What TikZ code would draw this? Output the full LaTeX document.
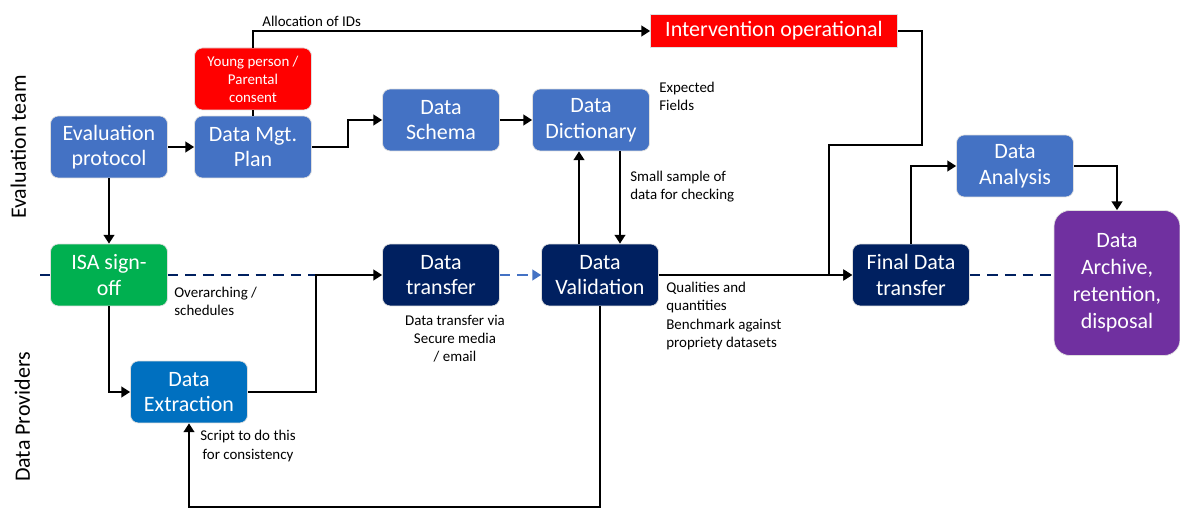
\documentclass[tikz,border=0pt]{standalone}
\usepackage{fontspec}
\setmainfont{Carlito}
\usetikzlibrary{arrows.meta,positioning,calc}
\definecolor{evblue}{HTML}{4472C4}
\definecolor{navy}{HTML}{002060}
\definecolor{isagreen}{HTML}{00B050}
\definecolor{extblue}{HTML}{0070C0}
\definecolor{archpurple}{HTML}{7030A0}
\definecolor{consred}{HTML}{FF0000}
\begin{document}
\begin{tikzpicture}[x=0.02cm,y=-0.02cm,
  box/.style={rounded corners=4.5pt,minimum width=2.34cm,minimum height=1.24cm,inner sep=1pt,
    align=center,text=white,draw=white!75!gray,line width=0.4pt,font=\fontsize{12.5}{14.5}\selectfont},
  note/.style={inner sep=0pt,font=\fontsize{8.5}{10.3}\selectfont},
  line/.style={line width=1.5pt},
  arr/.style={line width=1.5pt,-{Triangle[length=5pt,width=6pt]}},
  lane/.style={navy,line width=1.4pt,dash pattern=on 6pt off 4pt},
  lanearr/.style={evblue,line width=1.4pt,dash pattern=on 6pt off 4pt,-{Triangle[length=5pt,width=6pt]}}]
\useasboundingbox (0,0) rectangle (1180,509);
\node[rotate=90,anchor=base,font=\fontsize{12.5}{14.5}\selectfont] (evteam) at (26,147) {Evaluation team};
\node[rotate=90,anchor=base,font=\fontsize{12.5}{14.5}\selectfont] (dprov) at (30,417) {Data Providers};
\node[box,fill=evblue] (eval) at (109,147) {Evaluation\\protocol};
\node[box,fill=evblue] (mgt) at (253,147) {Data Mgt.\\Plan};
\node[box,fill=consred,font=\fontsize{8.5}{10.3}\selectfont] (yp) at (253,79) {Young person /\\Parental\\consent};
\node[box,fill=evblue] (schema) at (441,120) {Data\\Schema};
\node[box,fill=evblue] (dict) at (591,120) {Data\\Dictionary};
\node[box,fill=consred,rounded corners=0pt,minimum width=4.94cm,minimum height=0.66cm] (interv) at (774,31) {Intervention operational};
\node[box,fill=evblue] (ana) at (1015,166) {Data\\Analysis};
\node[box,fill=isagreen] (isa) at (109,275) {ISA sign-\\off};
\node[box,fill=extblue] (ext) at (189,392) {Data\\Extraction};
\node[box,fill=navy] (transfer) at (441,275) {Data\\transfer};
\node[box,fill=navy] (val) at (600,275) {Data\\Validation};
\node[box,fill=navy] (fin) at (911,275) {Final Data\\transfer};
\node[box,fill=archpurple,rounded corners=9pt,minimum width=2.52cm,minimum height=2.9cm,
  font=\fontsize{12.5}{15.4}\selectfont] (arch) at (1117,283) {Data\\Archive,\\retention,\\disposal};
\coordinate (laneL) at (40,275);
\coordinate (ej) at (316,275);
\coordinate (bot) at (0,507);
\coordinate (upx) at (579,0);
\coordinate (downx) at (620,0);
\coordinate (c1) at (922,145);
\coordinate (c2) at (829,145);
\draw[lane] (laneL) -- (isa.west);
\draw[lane] (isa.east) -- (ej);
\draw[lanearr] (transfer) -- (val);
\draw[lane] (fin.east) -- (fin.east -| arch.west);
\draw[arr] (eval) -- (mgt);
\draw[arr] (eval) -- (isa);
\draw[line] (mgt) -- (yp);
\draw[arr] (yp.north) |- (interv.west);
\draw[arr] (mgt.east) -- ++(36,0) |- (schema.west);
\draw[arr] (schema) -- (dict);
\draw[arr] (val.north -| upx) -- (dict.south -| upx);
\draw[arr] (dict.south -| downx) -- (val.north -| downx);
\draw[arr] (isa.south) |- (ext.west);
\draw[arr] (ext.east) -| (ej) -- (transfer.west);
\draw[arr] (val.south) -- (val.south |- bot) -| (ext.south);
\draw[arr] (val.east) -- (fin.west);
\draw[arr] (interv.east) -| (c1) -- (c2) |- (fin.west);
\draw[arr] (fin.north) |- (ana.west);
\draw[arr] (ana.east) -| (arch.north);
\node[note,anchor=west] (alloc) at (262,21) {Allocation of IDs};
\node[note,anchor=west,align=left] (expf) at (659,96) {Expected\\Fields};
\node[note,anchor=west,align=left] (sample) at (630,187) {Small sample of\\data for checking};
\node[note,anchor=west,align=left] (overarch) at (174,301) {Overarching /\\schedules};
\node[note,align=center] (via) at (455,339) {Data transfer via\\Secure media\\/ email};
\node[note,anchor=west,align=left] (qual) at (666,316) {Qualities and\\quantities\\Benchmark against\\propriety datasets};
\node[note,align=center] (script) at (248,446) {Script to do this\\for consistency};
\end{tikzpicture}
\end{document}
